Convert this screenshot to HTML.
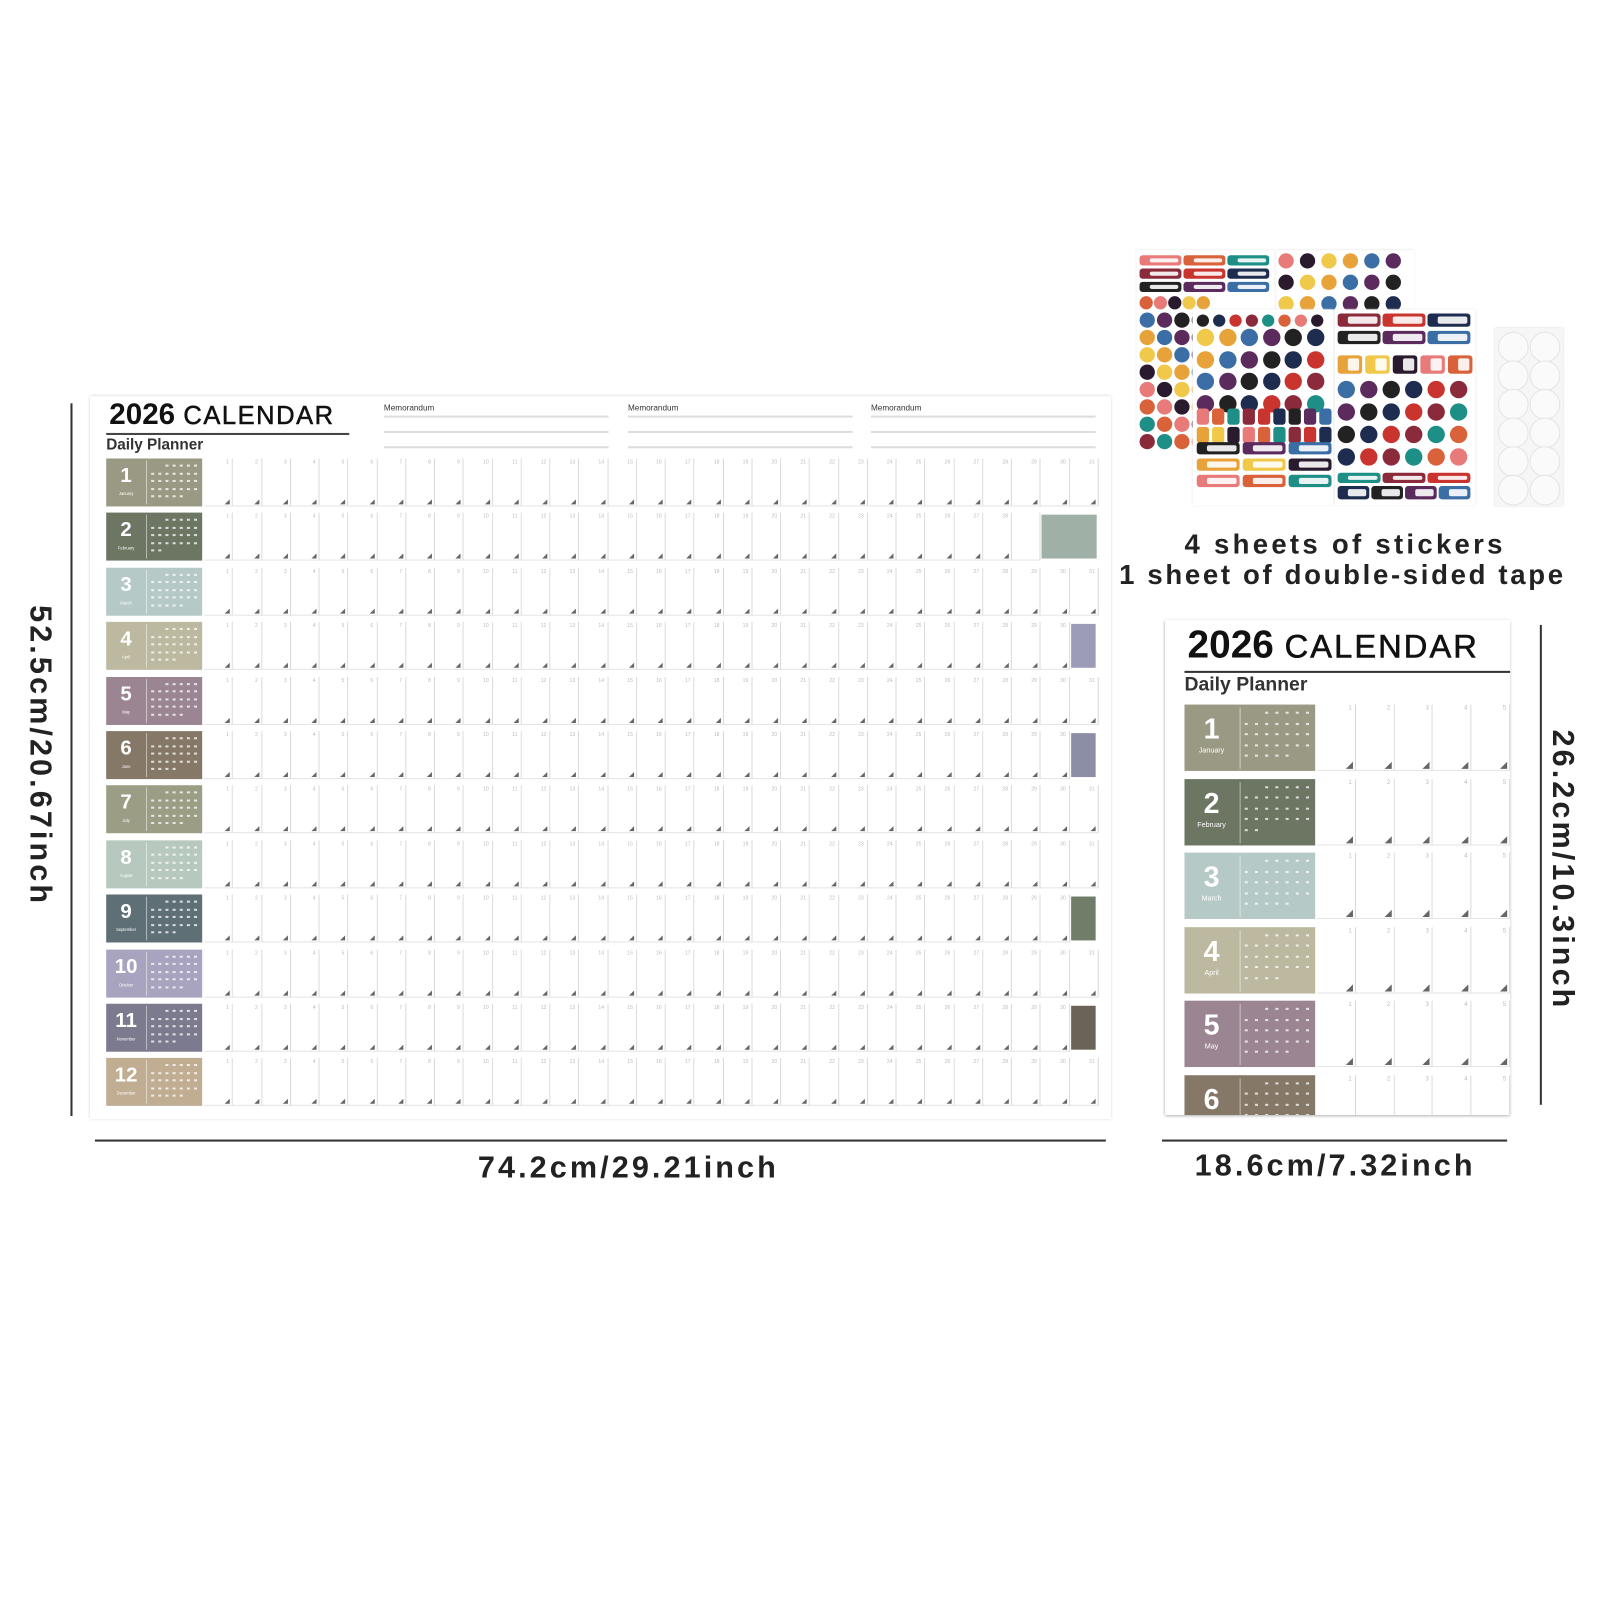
<!DOCTYPE html>
<html><head><meta charset="utf-8">
<style>
*{margin:0;padding:0;box-sizing:border-box}
html,body{width:1601px;height:1601px;background:#fff;overflow:hidden;font-family:"Liberation Sans",sans-serif}
#w{position:absolute;left:0;top:0;width:1568px;height:1568px;transform:scale(1.0211);transform-origin:0 0}
.a{position:absolute}
.dim{position:absolute;font-weight:bold;color:#222;font-size:30px;letter-spacing:3px;white-space:nowrap}
.cell{position:absolute;background:#fff;border-right:1px solid #d8d8d8;border-bottom:1px solid #e4e4e4}
.cell i{position:absolute;right:2px;bottom:1px;width:0;height:0;border-left:5px solid transparent;border-bottom:5px solid #666}
.cell b{position:absolute;right:3px;top:1px;font-size:5px;color:#bbb;font-weight:normal}
.blk{position:absolute;color:#fff}
.blk .n{position:absolute;font-weight:bold;text-align:center}
.dots{position:absolute;border-left:1px solid rgba(255,255,255,.5)}
.dots span{position:absolute;width:3px;height:2px;background:rgba(255,255,255,.75)}
.dot{position:absolute;border-radius:50%}
</style></head><body><div id="w">
<div class="a" style="left:88px;top:388px;width:1000px;height:708px;background:#fff;box-shadow:0 0 3px #ccc"></div>
<div class="a" style="left:107px;top:390px;font-size:29px;font-weight:bold;color:#111;white-space:nowrap">2026 <span style="font-weight:normal;font-size:25px;letter-spacing:1.5px;-webkit-text-stroke:.5px #111">CALENDAR</span></div>
<div class="a" style="left:104px;top:424px;width:238px;height:2px;background:#444"></div>
<div class="a" style="left:104px;top:427px;font-size:15px;font-weight:bold;color:#333">Daily Planner</div>
<div id="memo"></div>
<div id="big"></div>
<div class="a" style="left:69px;top:395px;width:2px;height:698px;background:#333"></div>
<div class="dim" style="left:39px;top:740px;transform:translate(-50%,-50%) rotate(90deg)">52.5cm/20.67inch</div>
<div class="a" style="left:93px;top:1116px;width:990px;height:2px;background:#333"></div>
<div class="dim" style="left:468px;top:1127px">74.2cm/29.21inch</div>
<div id="stk"></div>
<div class="dim" style="left:1160px;top:518px;font-size:27px;letter-spacing:3.2px">4 sheets of stickers</div>
<div class="dim" style="left:1096px;top:548px;font-size:27px;letter-spacing:2.6px">1 sheet of double-sided tape</div>
<div class="a" style="left:1141px;top:607px;width:338px;height:485px;background:#fff;box-shadow:0 1px 3px #999;overflow:hidden" id="sm">
<div class="a" style="left:22px;top:4px;font-size:38px;font-weight:bold;color:#111;white-space:nowrap">2026 <span style="font-weight:normal;font-size:32px;letter-spacing:2px;-webkit-text-stroke:.6px #111">CALENDAR</span></div>
<div class="a" style="left:19px;top:50px;width:319px;height:2px;background:#333"></div>
<div class="a" style="left:19px;top:53px;font-size:19px;font-weight:bold;color:#333">Daily Planner</div>
</div>
<div class="a" style="left:1508px;top:612px;width:2px;height:470px;background:#333"></div>
<div class="dim" style="left:1530px;top:852px;transform:translate(-50%,-50%) rotate(90deg)">26.2cm/10.3inch</div>
<div class="a" style="left:1138px;top:1116px;width:338px;height:2px;background:#333"></div>
<div class="dim" style="left:1170px;top:1125px">18.6cm/7.32inch</div>
</div>
<script>
var cols=['#9a9a84','#6c7663','#b5c9c6','#bdb9a0','#9b8593','#857867','#9b9e85','#b7c9bf','#5e6f75','#a8a4bf','#7c7a8e','#c1ad92'];
var names=['January','February','March','April','May','June','July','August','September','October','November','December'];
var days=[31,28,31,30,31,30,31,31,30,31,30,31];
function dots(w,h,n){var s='';for(var r=0;r<5;r++)for(var c=0;c<7;c++){if(r*7+c>=n+2)break;if(r==0&&c<2)continue;s+='<span style="left:'+(4+c*w)+'px;top:'+(4+r*h)+'px"></span>'}return s}
var h='';
var m='';[376,615,853].forEach(function(x){m+='<div class="a" style="left:'+x+'px;top:395px;font-size:8px;color:#333">Memorandum</div>';
[407,422,437].forEach(function(y){m+='<div class="a" style="left:'+x+'px;top:'+y+'px;width:220px;height:2px;background:#ddd"></div>'})});
document.getElementById('memo').innerHTML=m;
var notes={1:'#9fb0a6',3:'#9c9cb8',5:'#8c8ea6',8:'#6f7d69',10:'#6b6258'};
for(var i=0;i<12;i++){var y=449+i*53.4;
h+='<div class="blk" style="left:104px;top:'+y+'px;width:94px;height:47px;background:'+cols[i]+'"><div class="n" style="left:0;top:6px;width:39px;font-size:20px">'+(i+1)+'</div><div class="n" style="left:0;top:32px;width:39px;font-size:4px;font-weight:normal">'+names[i]+'</div><div class="dots" style="left:39px;top:2px;width:55px;height:43px">'+dots(7,7.5,days[i])+'</div></div>';
var cw=(1076-200)/31;
for(var d=0;d<31;d++){var x=200+d*cw;
if(notes[i]!==undefined&&d>=(i==1?29:30)){if(d==(i==1?29:30))h+='<div class="a" style="left:'+(x+1)+'px;top:'+(y+2)+'px;width:'+(i==1?cw*2-3:cw-4)+'px;height:43px;background:'+notes[i]+'"></div>';continue}
h+='<div class="cell" style="left:'+x+'px;top:'+y+'px;width:'+cw+'px;height:47px">'+(d<days[i]?'<b>'+(d+1)+'</b><i></i>':'')+'</div>';}
}
document.getElementById('big').innerHTML=h;
var s='';for(var i=0;i<6;i++){var y=83+i*72.5;
s+='<div class="blk" style="left:19px;top:'+y+'px;width:128px;height:65px;background:'+cols[i]+'"><div class="n" style="left:0;top:8px;width:53px;font-size:28px">'+(i+1)+'</div><div class="n" style="left:0;top:42px;width:53px;font-size:7px;font-weight:normal">'+names[i]+'</div><div class="dots" style="left:54px;top:3px;width:74px;height:60px">'+dots(10,10.5,days[i])+'</div></div>';
for(var d=0;d<5;d++){var x=149+d*37.8;s+='<div class="cell" style="left:'+x+'px;top:'+y+'px;width:37.8px;height:65px"><b style="font-size:6px">'+(d+1)+'</b><i style="border-left-width:7px;border-bottom-width:7px"></i></div>'}}
document.getElementById('sm').insertAdjacentHTML('beforeend',s);
var pal=['#2a1a2e','#c9342f','#e8a23a','#1d8f86','#5b2b5e','#e87a7a','#1e2d4f','#f0c84a','#8a2a3a','#3b6ea5','#d9623a','#222'];
var st='';var k=0;
function sheet(x,y,w,hh){st+='<div class="a" style="left:'+x+'px;top:'+y+'px;width:'+w+'px;height:'+hh+'px;background:#fff;box-shadow:0 0 2px #ddd"></div>'}
function grid(x,y,nc,nr,sz,gap,round){for(var r=0;r<nr;r++)for(var c=0;c<nc;c++){k++;st+='<div class="dot" style="left:'+(x+c*(sz+gap))+'px;top:'+(y+r*(sz+gap))+'px;width:'+sz+'px;height:'+sz+'px;background:'+pal[(k*7+r)%pal.length]+(round?'':';border-radius:3px')+'"></div>'}}
function bars(x,y,nc,nr,w,hh,gx,gy){for(var r=0;r<nr;r++)for(var c=0;c<nc;c++){k++;st+='<div class="a" style="left:'+(x+c*(w+gx))+'px;top:'+(y+r*(hh+gy))+'px;width:'+w+'px;height:'+hh+'px;background:'+pal[(k*5)%pal.length]+';border-radius:3px"><div class="a" style="left:10px;top:3px;right:3px;bottom:3px;background:#fff;border-radius:2px;opacity:.9"></div></div>'}}
sheet(1113,245,135,190);sheet(1250,245,135,58);
bars(1116,250,3,3,41,10,2,3);grid(1116,290,5,1,13,1,1);
grid(1116,306,4,8,15,2,1);
grid(1252,248,6,3,15,6,1);
sheet(1168,303,138,192);sheet(1307,303,138,192);
grid(1172,308,8,1,12,4,1);grid(1172,322,6,4,17,4.5,1);
bars(1172,400,9,2,12,16,3,2);
bars(1172,433,3,3,42,12,3,4);
bars(1310,307,3,2,42,13,2,4);bars(1310,348,5,1,24,18,3,0);
grid(1310,373,6,4,17,5,1);bars(1310,463,3,1,42,10,2,0);bars(1310,476,4,1,31,13,2,0);
st+='<div class="a" style="left:1464px;top:321px;width:67px;height:175px;background:#f6f6f6;box-shadow:0 0 2px #ccc"></div>';
for(var r=0;r<6;r++)for(var c=0;c<2;c++)st+='<div class="dot" style="left:'+(1467+c*31)+'px;top:'+(325+r*28)+'px;width:30px;height:30px;border:1px solid #e4e4e4;background:#fafafa"></div>';
document.getElementById('stk').innerHTML=st;
</script>
</body></html>
